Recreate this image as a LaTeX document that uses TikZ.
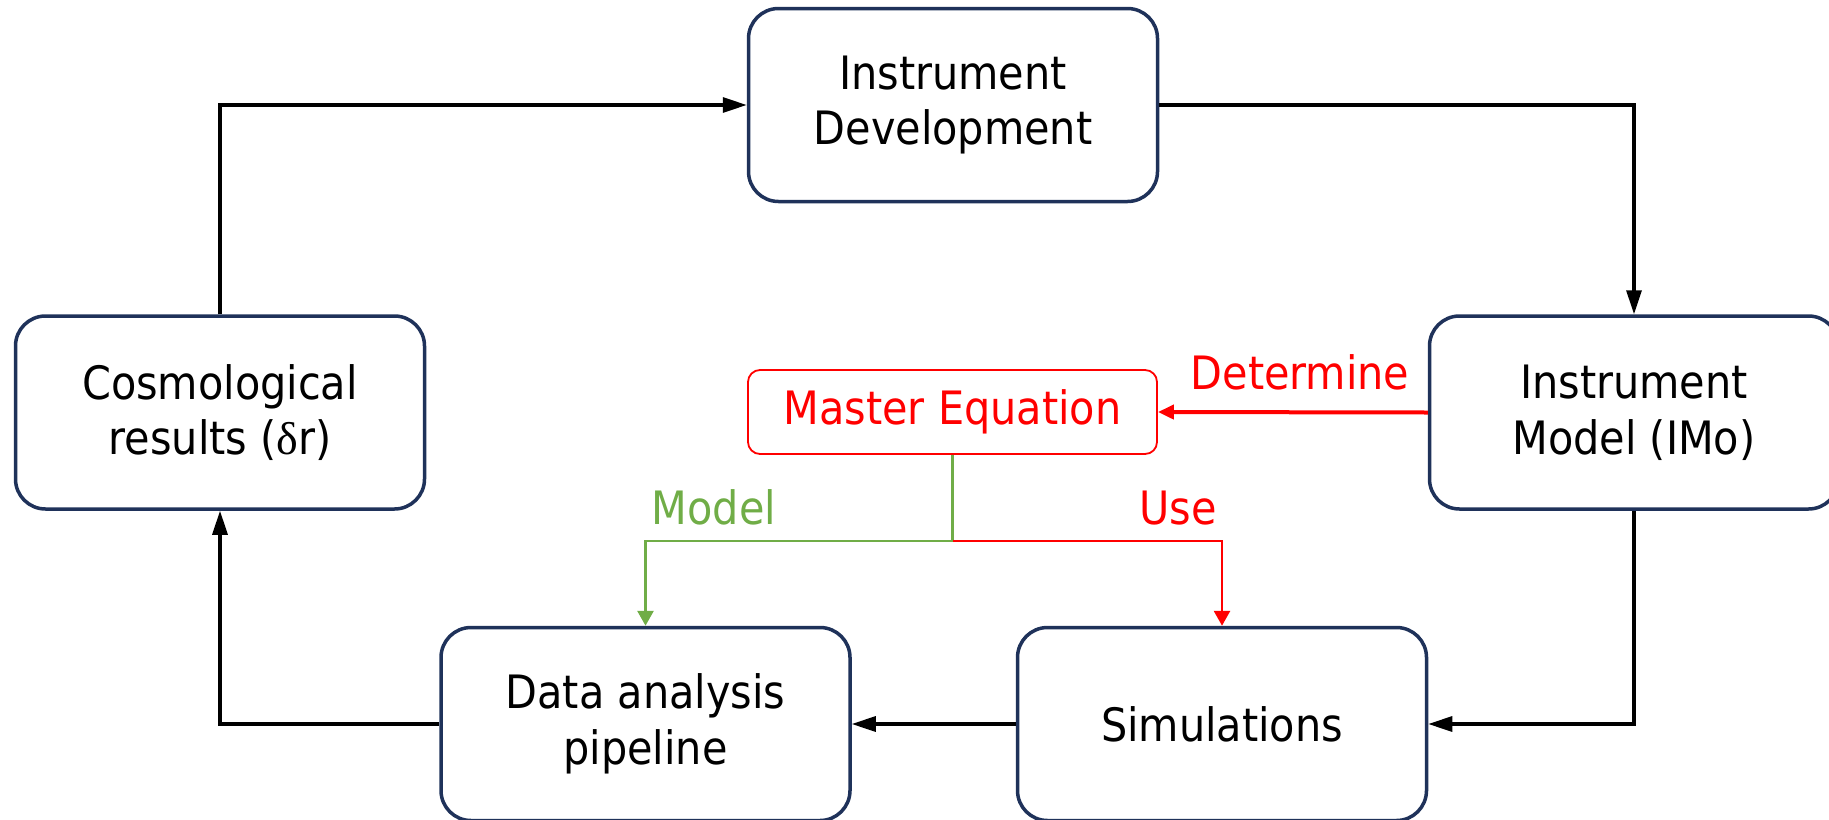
\documentclass[tikz,border=0pt]{standalone}
\usepackage{fontspec}
\setmainfont{DejaVu Sans Condensed}
\newfontfamily\grk{Liberation Serif}
\usetikzlibrary{arrows.meta}
\definecolor{navy}{RGB}{31,50,90}
\definecolor{grn}{RGB}{112,173,71}
\definecolor{rd}{RGB}{255,0,0}
\begin{document}
\begin{tikzpicture}[x=0.5pt,y=-0.5pt,
  font=\fontsize{23}{27.8}\selectfont,
  box/.style={draw=navy, line width=1.75pt, rounded corners=15pt, fill=white,
    minimum width=204.5pt, minimum height=96.5pt, inner sep=0pt, align=center},
  mebox/.style={draw=rd, line width=0.9pt, rounded corners=6pt, text=rd,
    minimum width=204.5pt, minimum height=42pt, inner sep=0pt, align=center},
  arr/.style={draw=black, line width=1.6pt, -{Triangle[length=12pt,width=7.5pt]}},
  garr/.style={draw=grn, line width=1.4pt, -{Triangle[length=7.5pt,width=8pt]}},
  rarr/.style={draw=rd, line width=1.4pt, -{Triangle[length=7.5pt,width=8pt]}},
  rarrb/.style={draw=rd, line width=2pt, -{Triangle[length=8pt,width=7pt]}},
  lbl/.style={inner sep=0pt, anchor=base}]
\useasboundingbox (0,0) rectangle (1829,819);
\node[box] (id)  at (953,105)   {Instrument\\Development};
\node[box] (cos) at (220,412.5) {Cosmological\\results ({\grk δ}r)};
\node[box] (imo) at (1634,412.5) {Instrument\\Model (IMo)};
\node[mebox] (me) at (952.5,412) {Master Equation};
\node[box] (dap) at (645.5,724) {Data analysis\\pipeline};
\node[box] (sim) at (1222,724)  {Simulations};
\draw[arr] (cos.north) |- (id.west);
\draw[arr] (id.east) -| (imo.north);
\draw[arr] (imo.south) |- (sim.east);
\draw[arr] (sim.west) -- (dap.east);
\draw[arr] (dap.west) -| (cos.south);
\draw[rarrb] (imo.west) -- (me.east);
\path (me.south) ++(0,86) coordinate (j);
\draw[garr] (me.south) -- (j) -| (dap.north);
\draw[rarr] (j) -| (sim.north);
\node[lbl, text=rd]  (det) at (1300,389) {Determine};
\node[lbl, text=rd]  (use) at (1178,524) {Use};
\node[lbl, text=grn] (mod) at (714,524)  {Model};
\end{tikzpicture}
\end{document}
